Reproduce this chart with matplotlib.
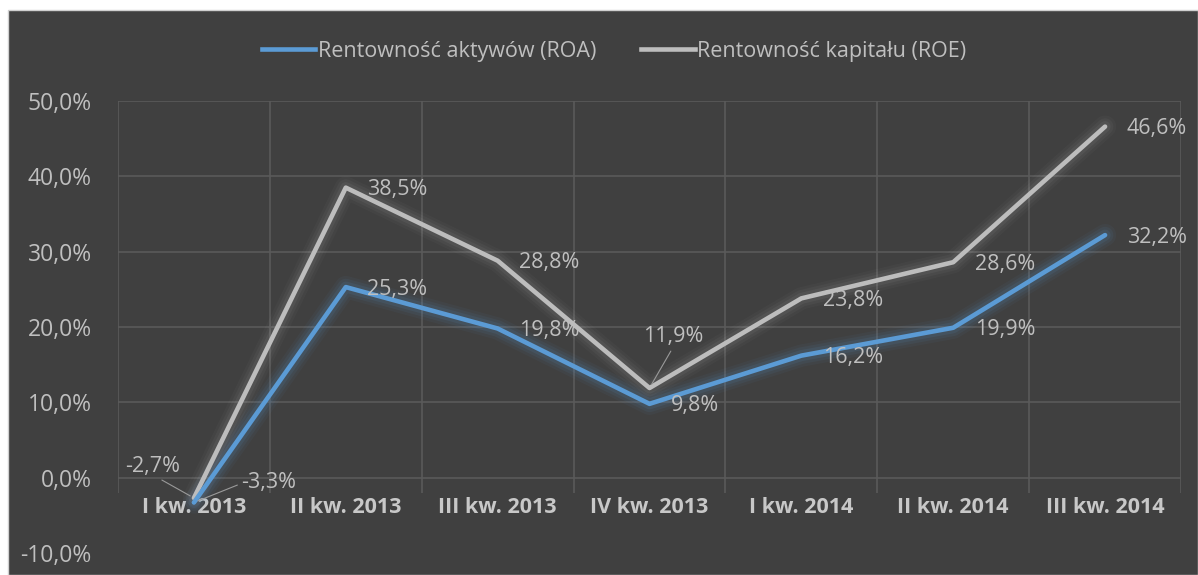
import matplotlib
matplotlib.use("Agg")
import matplotlib.pyplot as plt
from matplotlib.lines import Line2D
from matplotlib.patches import Rectangle
from matplotlib.ticker import FuncFormatter

categories = ["I kw. 2013", "II kw. 2013", "III kw. 2013", "IV kw. 2013",
              "I kw. 2014", "II kw. 2014", "III kw. 2014"]
roa = [-3.3, 25.3, 19.8, 9.8, 16.2, 19.9, 32.2]
roe = [-2.7, 38.5, 28.8, 11.9, 23.8, 28.6, 46.6]
roa_name = "Rentowność aktywów (ROA)"
roe_name = "Rentowność kapitału (ROE)"
yticks = [-10, 0, 10, 20, 30, 40, 50]

BG = "#404040"
TXT = "#bfbfbf"
GRID = "#5a5a5a"
BLUE = "#5b9bd5"
GRAY = "#bdbdbd"
FONT = "Open Sans"

plt.rcParams['font.family'] = [FONT, 'DejaVu Sans']

fig = plt.figure(figsize=(11.98, 5.75), dpi=100)
fig.patch.set_facecolor("white")
# dark chart area (white margin at top and left)
fig.add_artist(Rectangle((8 / 1198, 0), 1 - 8 / 1198, 1 - 10 / 575,
                         transform=fig.transFigure, facecolor=BG,
                         edgecolor="#d0d0d0", linewidth=1.0, zorder=0))

ax = fig.add_axes([118 / 1198, 22 / 575, 1063 / 1198, 452 / 575])
ax.set_facecolor("none")
n = len(categories)
x = list(range(n))
ax.set_xlim(-0.5, n - 0.5)
ax.set_ylim(-10, 50)

# gridlines
for yv in yticks[1:]:
    ax.axhline(yv, color=GRID, lw=1.2, zorder=1)
ax.vlines([i - 0.5 for i in range(n + 1)], -2.1, 50, color=GRID, lw=1.2, zorder=1)

for s in ax.spines.values():
    s.set_visible(False)

# glow + lines
for w, a in [(16, 0.05), (12, 0.07), (8, 0.10)]:
    ax.plot(x, roa, color=BLUE, lw=w, alpha=a, solid_joinstyle='round',
            solid_capstyle='round', zorder=2)
    ax.plot(x, roe, color="#d8d8d8", lw=w, alpha=a * 0.6, solid_joinstyle='round',
            solid_capstyle='round', zorder=2)
ax.plot(x, roe, color=GRAY, lw=3.3, solid_joinstyle='round',
        solid_capstyle='round', zorder=4)
ax.plot(x, roa, color=BLUE, lw=3.3, solid_joinstyle='round',
        solid_capstyle='round', zorder=5)

def fmt(v):
    return f"{v:.1f}%".replace(".", ",")

# data labels
lab_kw = dict(textcoords="offset points", fontsize=15.5, color=TXT, zorder=6)
leader = dict(arrowstyle="-", color="#9a9a9a", lw=0.8, shrinkA=1, shrinkB=3)
for i, v in enumerate(roa):
    if i == 0:
        ax.annotate(fmt(v), xy=(i, v), xytext=(54, 14.5), ha="center", va="center",
                    arrowprops=dict(leader, relpos=(0, 0.45)), **lab_kw)
    else:
        ax.annotate(fmt(v), xy=(i, v), xytext=(15.5, -1.5), ha="left", va="center", **lab_kw)
for i, v in enumerate(roe):
    if i == 0:
        ax.annotate(fmt(v), xy=(i, v), xytext=(-29.5, 23), ha="center", va="center",
                    arrowprops=dict(leader, relpos=(0.55, 0)), **lab_kw)
    elif i == 3:
        ax.annotate(fmt(v), xy=(i, v), xytext=(17, 37), ha="center", va="center",
                    arrowprops=dict(leader, relpos=(0.5, 0)), **lab_kw)
    else:
        ax.annotate(fmt(v), xy=(i, v), xytext=(15.5, -1.5), ha="left", va="center", **lab_kw)

# axes ticks
ax.set_yticks(yticks)
ax.yaxis.set_major_formatter(FuncFormatter(lambda v, p: fmt(v)))
ax.tick_params(axis="y", length=0, pad=19, labelsize=16.5, labelcolor=TXT)
ax.spines['bottom'].set_position(('data', 0))
ax.set_xticks(x)
ax.set_xticklabels(categories, fontweight="bold")
ax.tick_params(axis="x", length=0, pad=14, labelsize=15.5, labelcolor="#c8c8c8")

# legend
handles = [Line2D([0], [0], color=BLUE, lw=3.3), Line2D([0], [0], color=GRAY, lw=3.3)]
fig.legend(handles, [roa_name, roe_name], loc="center",
           bbox_to_anchor=(614 / 1198, 1 - 51 / 575), ncol=2, frameon=False,
           handlelength=2.5, handletextpad=0.1, columnspacing=2.1,
           prop={"family": FONT, "size": 15.5}, labelcolor=TXT)

fig.savefig("out.png", dpi=100, facecolor=fig.get_facecolor())
